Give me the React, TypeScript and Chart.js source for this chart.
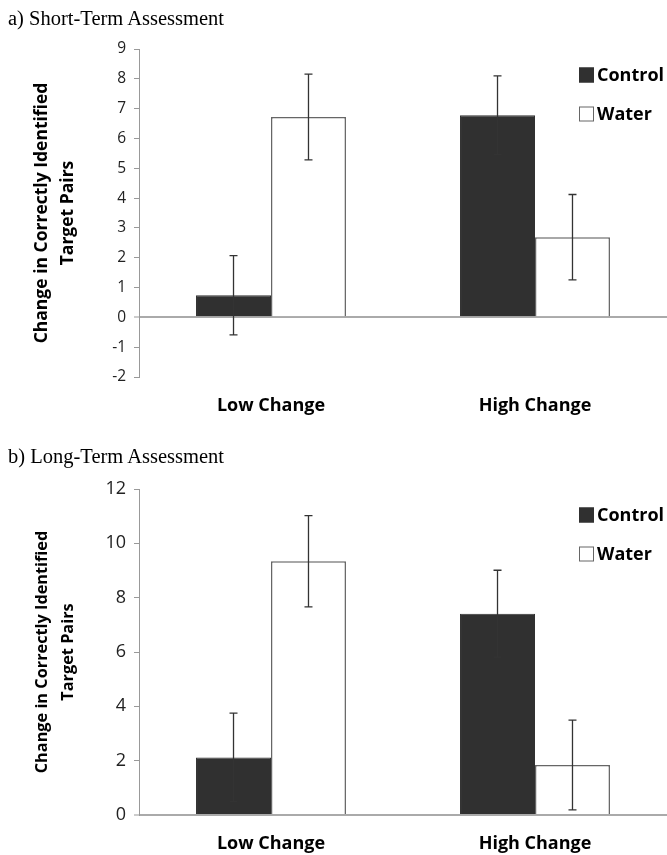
import React, { useEffect, useRef } from "react";
import { Chart, registerables } from "chart.js";

Chart.register(...registerables);

// ---- data ----
const categories = ["Low Change", "High Change"];
const seriesNames = ["Control", "Water"];
const yTitle = ["Change in Correctly Identified", "Target Pairs"];

const shortTitle = "a) Short-Term Assessment";
const shortControl = [0.74, 6.78];
const shortControlErr = [1.33, 1.32];
const shortWater = [6.72, 2.69];
const shortWaterErr = [1.44, 1.43];
const shortTicks = [-2, -1, 0, 1, 2, 3, 4, 5, 6, 7, 8, 9];

const longTitle = "b) Long-Term Assessment";
const longControl = [2.12, 7.41];
const longControlErr = [1.63, 1.6];
const longWater = [9.34, 1.84];
const longWaterErr = [1.68, 1.65];
const longTicks = [0, 2, 4, 6, 8, 10, 12];

const SANS = "'Open Sans', Lato, sans-serif";
const DARK = "#303030";

const errorBarPlugin = {
  id: "errorBars",
  afterDatasetsDraw(chart: any) {
    const ctx = chart.ctx;
    const yScale = chart.scales.y;
    ctx.save();
    ctx.strokeStyle = "#333";
    ctx.lineWidth = 1.3;
    chart.data.datasets.forEach((ds: any, di: number) => {
      const meta = chart.getDatasetMeta(di);
      meta.data.forEach((bar: any, i: number) => {
        const v = ds.data[i];
        const e = ds.errors[i];
        const x = bar.x;
        const yTop = yScale.getPixelForValue(v + e);
        const yBot = yScale.getPixelForValue(v - e);
        const cap = 4;
        ctx.beginPath();
        ctx.moveTo(x, yTop);
        ctx.lineTo(x, yBot);
        ctx.moveTo(x - cap, yTop);
        ctx.lineTo(x + cap, yTop);
        ctx.moveTo(x - cap, yBot);
        ctx.lineTo(x + cap, yBot);
        ctx.stroke();
      });
    });
    ctx.restore();
  },
};

const legendPlugin = {
  id: "insideLegend",
  afterDraw(chart: any) {
    const ctx = chart.ctx;
    const area = chart.chartArea;
    const x0 = 579;
    const offsets = [26, 65];
    ctx.save();
    chart.data.datasets.forEach((ds: any, i: number) => {
      const cy = area.top + offsets[i];
      const size = 15;
      ctx.fillStyle = ds.backgroundColor;
      ctx.fillRect(x0, cy - size / 2, size, size);
      ctx.strokeStyle = ds.borderColor;
      ctx.lineWidth = 1;
      ctx.strokeRect(x0 + 0.5, cy - size / 2 + 0.5, size - 1, size - 1);
      ctx.fillStyle = "#000";
      ctx.font = `bold 18px ${SANS}`;
      ctx.textBaseline = "middle";
      ctx.textAlign = "left";
      ctx.fillText(ds.label, x0 + 18, cy + 1);
    });
    ctx.restore();
  },
};

function makeConfig(
  control: number[],
  controlErr: number[],
  water: number[],
  waterErr: number[],
  ticks: number[],
  padTop: number,
  xHeight: number,
  xPad: number,
  tickSize: number,
  titleSize: number
): any {
  return {
    type: "bar",
    data: {
      labels: categories,
      datasets: [
        {
          label: seriesNames[0],
          data: control,
          errors: controlErr,
          backgroundColor: DARK,
          borderColor: DARK,
          borderWidth: 1,
        },
        {
          label: seriesNames[1],
          data: water,
          errors: waterErr,
          backgroundColor: "#ffffff",
          borderColor: "#666666",
          borderWidth: 1.5,
        },
      ],
    },
    options: {
      responsive: false,
      animation: false,
      events: [],
      layout: { padding: { top: padTop, left: 0, right: 0, bottom: 0 } },
      datasets: { bar: { categoryPercentage: 0.568, barPercentage: 1 } },
      plugins: { legend: { display: false }, tooltip: { enabled: false }, title: { display: false } },
      scales: {
        x: {
          grid: { display: false },
          border: { display: false },
          ticks: {
            color: "#000",
            padding: xPad,
            font: { family: SANS, size: 18, weight: "bold" },
            maxRotation: 0,
          },
          afterFit: (s: any) => {
            s.height = xHeight;
          },
        },
        y: {
          min: ticks[0],
          max: ticks[ticks.length - 1],
          afterBuildTicks: (s: any) => {
            s.ticks = ticks.map((v) => ({ value: v }));
          },
          ticks: {
            color: "#222",
            padding: 8,
            font: { family: SANS, size: tickSize },
          },
          grid: {
            drawOnChartArea: true,
            drawTicks: true,
            tickLength: 5,
            color: (c: any) => (c.tick && c.tick.value === 0 ? "#aaaaaa" : "rgba(0,0,0,0)"),
            lineWidth: (c: any) => (c.tick && c.tick.value === 0 ? 2 : 1),
            tickColor: "#999999",
            tickWidth: 1,
          },
          border: { display: true, color: "#999999", width: 1 },
          title: {
            display: true,
            text: yTitle,
            color: "#000",
            font: { family: SANS, size: titleSize, weight: "bold", lineHeight: 26 / titleSize },
            padding: { top: 29, bottom: 0 },
          },
          afterFit: (s: any) => {
            s.width = 139;
          },
        },
      },
    },
    plugins: [errorBarPlugin, legendPlugin],
  };
}

function ChartCanvas(props: { config: () => any; width: number; height: number; top: number }) {
  const ref = useRef<HTMLCanvasElement | null>(null);
  useEffect(() => {
    if (!ref.current) return;
    const chart = new Chart(ref.current, props.config());
    return () => chart.destroy();
  }, []);
  return (
    <canvas
      ref={ref}
      width={props.width}
      height={props.height}
      style={{ position: "absolute", left: 0, top: props.top, width: props.width, height: props.height }}
    />
  );
}

const titleStyle = (top: number): React.CSSProperties => ({
  position: "absolute",
  left: 8,
  top,
  fontFamily: "'Liberation Serif', 'Times New Roman', serif",
  fontSize: 20.5,
  lineHeight: "20.5px",
  color: "#000",
  whiteSpace: "nowrap",
});

export default function App() {
  useEffect(() => {
    document.body.style.margin = "0";
  }, []);
  return (
    <div style={{ position: "relative", width: 667, height: 855, background: "#fff", overflow: "hidden" }}>
      <ChartCanvas
        width={667}
        height={425}
        top={0}
        config={() =>
          makeConfig(shortControl, shortControlErr, shortWater, shortWaterErr, shortTicks, 49, 48, 10, 15.5, 17.5)
        }
      />
      <ChartCanvas
        width={667}
        height={430}
        top={425}
        config={() =>
          makeConfig(longControl, longControlErr, longWater, longWaterErr, longTicks, 64, 40, 10, 18, 16.3)
        }
      />
      <div style={titleStyle(8)}>{shortTitle}</div>
      <div style={titleStyle(446)}>{longTitle}</div>
    </div>
  );
}
